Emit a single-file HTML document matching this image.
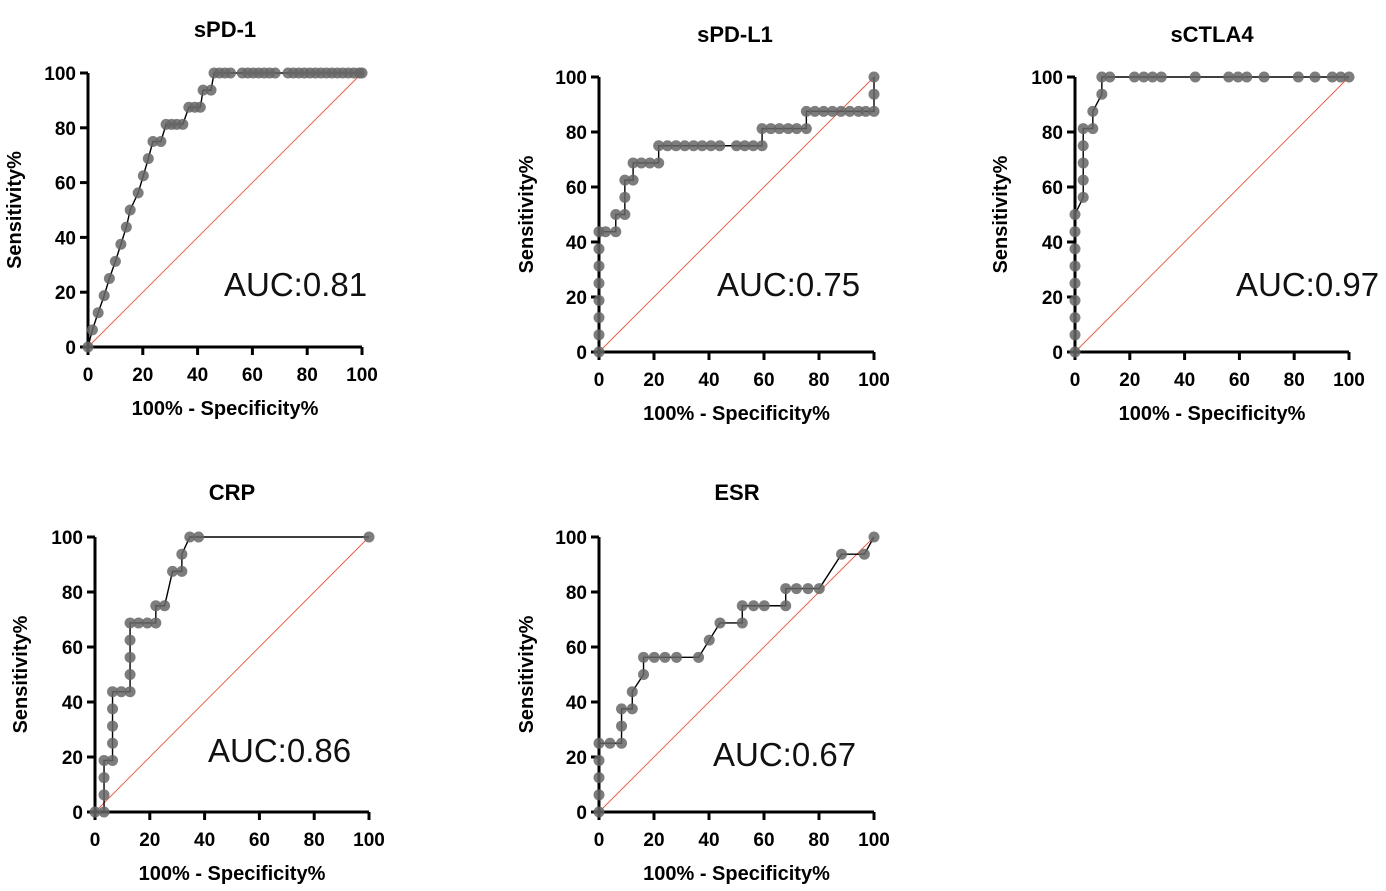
<!DOCTYPE html>
<html><head><meta charset="utf-8"><style>
body{margin:0;background:#fff;width:1386px;height:886px;overflow:hidden}
svg text{font-family:"Liberation Sans",sans-serif}
</style></head><body>
<svg id="root" width="1386" height="886" xmlns="http://www.w3.org/2000/svg"></svg>
<script>
const ticks=[0,20,40,60,80,100];
const spd1X=[0,1.6,3.7,5.9,7.8,10,12,14,15.4,18.3,20.2,22,23.7,26.6,28.5,30.5,32.4,34.6,36.8,39,41,42,44.9,46,48,50,52,56.3,58.3,60.3,62.3,64.3,66.3,68.3,73,75,77,79,81,83,85,87,89,91,93,95,97,99,100];
const spd1Y=[0,6.25,12.5,18.75,25,31.25,37.5,43.75,50,56.25,62.5,68.75,75,75,81.25,81.25,81.25,81.25,87.5,87.5,87.5,93.75,93.75,100,100,100,100,100,100,100,100,100,100,100,100,100,100,100,100,100,100,100,100,100,100,100,100,100,100];
const spdl1X=[0,0,0,0,0,0,0,0,2.4,6.1,6.1,9.4,9.4,9.4,12.4,12.4,15.4,18.5,21.7,21.7,24.9,28,31.2,34.4,37.5,40.7,43.9,50,53,56.1,59.3,59.3,62.5,65.6,68.8,71.9,75.4,75.4,78.5,81.7,84.9,88,91.2,94.4,97,100,100,100];
const spdl1Y=[0,6.25,12.5,18.75,25,31.25,37.5,43.75,43.75,43.75,50,50,56.25,62.5,62.5,68.75,68.75,68.75,68.75,75,75,75,75,75,75,75,75,75,75,75,75,81.25,81.25,81.25,81.25,81.25,81.25,87.5,87.5,87.5,87.5,87.5,87.5,87.5,87.5,87.5,93.75,100];
const ctlaX=[0,0,0,0,0,0,0,0,0,3,3,3,3,3,6.5,6.5,9.8,9.8,12.7,21.7,25.1,28.3,31.5,43.9,56.1,59.5,62.7,69,81.5,87.6,93.9,97,100];
const ctlaY=[0,6.25,12.5,18.75,25,31.25,37.5,43.75,50,56.25,62.5,68.75,75,81.25,81.25,87.5,93.75,100,100,100,100,100,100,100,100,100,100,100,100,100,100,100,100];
const crpX=[0,3.3,3.3,3.3,3.3,6.4,6.4,6.4,6.4,6.4,9.6,12.8,12.8,12.8,12.8,12.8,15.9,19.1,22.2,22.2,25.4,28.3,31.7,31.7,34.6,37.8,100];
const crpY=[0,0,6.25,12.5,18.75,18.75,25,31.25,37.5,43.75,43.75,43.75,50,56.25,62.5,68.75,68.75,68.75,68.75,75,75,87.5,87.5,93.75,100,100,100];
const esrX=[0,0,0,0,0,4,8.2,8.2,8.2,12.1,12.1,16.2,16.2,20.1,24,28.2,36.2,40.1,44,52.1,52.1,56.2,60.1,67.9,67.9,71.8,76,80.1,88.2,96.5,100];
const esrY=[0,6.25,12.5,18.75,25,25,25,31.25,37.5,37.5,43.75,50,56.25,56.25,56.25,56.25,56.25,62.5,68.75,68.75,75,75,75,75,81.25,81.25,81.25,81.25,93.75,93.75,100];
const panels=[
 {name:'spd-1',title:'sPD-1',x0:88,x1:362,y0:347,y1:73,tx:225,ty:37,auc:'AUC:0.81',ax:224,ay:296,lyx:21,xs:spd1X,ys:spd1Y},
 {name:'spd-l1',title:'sPD-L1',x0:599,x1:874,y0:352,y1:77,tx:735,ty:42,auc:'AUC:0.75',ax:717,ay:296,lyx:533,xs:spdl1X,ys:spdl1Y},
 {name:'sctla4',title:'sCTLA4',x0:1075,x1:1349,y0:352,y1:77,tx:1212,ty:42,auc:'AUC:0.97',ax:1236,ay:296,lyx:1007,xs:ctlaX,ys:ctlaY},
 {name:'crp',title:'CRP',x0:95,x1:369,y0:812,y1:537,tx:232,ty:500,auc:'AUC:0.86',ax:208,ay:762,lyx:27,xs:crpX,ys:crpY},
 {name:'esr',title:'ESR',x0:599,x1:874,y0:812,y1:537,tx:737,ty:500,auc:'AUC:0.67',ax:713,ay:766,lyx:533,xs:esrX,ys:esrY}
];
const NS='http://www.w3.org/2000/svg';
const root=document.getElementById('root');
function mk(tag,attrs,parent,txt){const e=document.createElementNS(NS,tag);for(const k in attrs)e.setAttribute(k,attrs[k]);if(txt!==undefined)e.textContent=txt;parent.appendChild(e);return e;}
panels.forEach(p=>{
 const g=mk('g',{},root);
 
 
 const sx=v=>p.x0+(p.x1-p.x0)*v/100, sy=v=>p.y0+(p.y1-p.y0)*v/100;
 const t=mk('text',{x:p.tx,y:p.ty,'text-anchor':'middle','font-size':22,'font-weight':'bold'},g,p.title);
 
 
 const dg=mk('line',{x1:sx(0),y1:sy(0),x2:sx(100),y2:sy(100),stroke:'#e8553c','stroke-width':0.9},g);
 
 
 const ax=mk('path',{d:`M${sx(0)},${sy(100)}V${sy(0)}H${sx(100)}`,fill:'none',stroke:'#000','stroke-width':3},g);
 
 
 ticks.forEach(v=>{
  mk('line',{x1:sx(v),y1:sy(0),x2:sx(v),y2:sy(0)+8,stroke:'#000','stroke-width':3},g);
  mk('line',{x1:sx(0)-8,y1:sy(v),x2:sx(0),y2:sy(v),stroke:'#000','stroke-width':3},g);
  const xl=mk('text',{x:sx(v),y:sy(0)+34,'text-anchor':'middle','font-size':19,'font-weight':'bold'},g,String(v));
  
  
  const yl=mk('text',{x:sx(0)-12,y:sy(v)+7,'text-anchor':'end','font-size':19,'font-weight':'bold'},g,String(v));
  
  
 });
 const xt=mk('text',{x:(sx(0)+sx(100))/2,y:sy(0)+68,'text-anchor':'middle','font-size':20,'font-weight':'bold'},g,'100% - Specificity%');
 
 
 const cy=(sy(0)+sy(100))/2;
 const yt=mk('text',{x:p.lyx,y:cy,'text-anchor':'middle','font-size':20,'font-weight':'bold',transform:`rotate(-90 ${p.lyx} ${cy})`},g,'Sensitivity%');
 
 
 let d='';p.xs.forEach((v,i)=>{d+=(i?'L':'M')+sx(v)+','+sy(p.ys[i]);});
 const ln=mk('path',{d:d,fill:'none',stroke:'#000','stroke-width':1.4},g);
 
 
 p.xs.forEach((v,i)=>{
  const c=mk('circle',{cx:sx(v),cy:sy(p.ys[i]),r:5.5,fill:'#666','fill-opacity':0.85},g);
  
  
 });
 const a=mk('text',{x:p.ax,y:p.ay,'font-size':33,fill:'#111'},g,p.auc);
 
 
});
</script>
</body></html>
